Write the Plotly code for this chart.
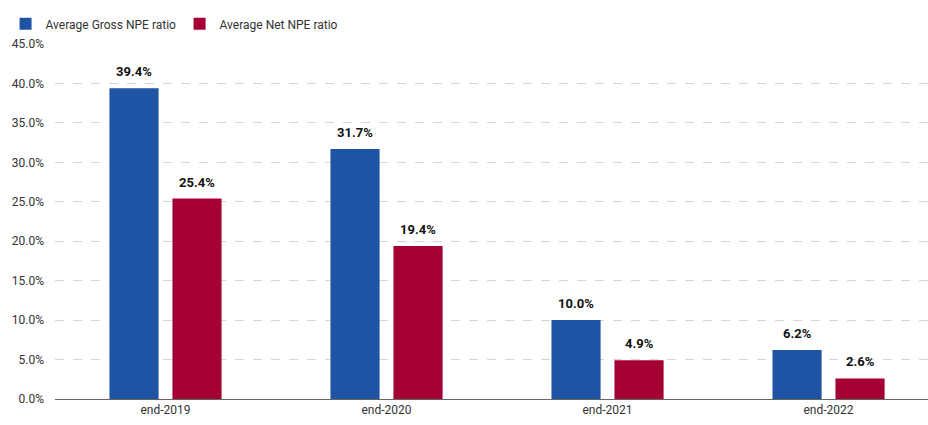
import plotly.graph_objects as go

categories = ["end-2019", "end-2020", "end-2021", "end-2022"]
gross_npe = [39.4, 31.7, 10.0, 6.2]
net_npe = [25.4, 19.4, 4.9, 2.6]
y_ticks = [0, 5, 10, 15, 20, 25, 30, 35, 40, 45]
y_tick_labels = [f"{v:.1f}%" for v in y_ticks]

FONT = "Roboto, Arial, sans-serif"
BLUE = "#1F53A3"
RED = "#A50034"
BAR_OFFSET_PX = 31.5  # half the distance between the two bar centres in a group

series = [
    ("Average Gross NPE ratio", gross_npe, BLUE, -BAR_OFFSET_PX),
    ("Average Net NPE ratio", net_npe, RED, BAR_OFFSET_PX),
]

fig = go.Figure()
annotations = []
for name, vals, color, shift in series:
    fig.add_trace(go.Bar(
        x=categories, y=vals, name=name, marker_color=color,
        marker_line=dict(width=0),
    ))
    for cat, v in zip(categories, vals):
        annotations.append(dict(
            x=cat, y=v, xref="x", yref="y", text=f"{v:.1f}%",
            showarrow=False, xanchor="center", yanchor="bottom",
            xshift=shift, yshift=7,
            font=dict(family=FONT, size=13, color="#111111", weight="bold"),
        ))

fig.update_layout(
    width=928, height=425,
    margin=dict(l=55, r=0, t=44, b=26, autoexpand=False),
    paper_bgcolor="white", plot_bgcolor="white",
    barmode="group", bargap=0.43, bargroupgap=0.22,
    font=dict(family=FONT, size=12, color="#333333"),
    showlegend=True,
    legend=dict(orientation="h", xref="container", yref="container",
                x=0.006, xanchor="left", y=0.978, yanchor="top",
                font=dict(family=FONT, size=12, color="#333333"),
                itemwidth=30, entrywidth=129, entrywidthmode="pixels",
                traceorder="normal", tracegroupgap=0),
    annotations=annotations,
)

fig.update_xaxes(
    range=[-0.5, 3.45], showgrid=False, showline=True, linecolor="#666666",
    linewidth=1, ticks="", automargin=False,
    tickfont=dict(family=FONT, size=12, color="#333333"),
)
fig.update_yaxes(
    range=[0, 45], tickvals=y_ticks, ticktext=y_tick_labels,
    showgrid=True, gridcolor="#D6D6D6", griddash="dash", gridwidth=1,
    zeroline=False, showline=False, ticks="", automargin=False,
    ticklabelstandoff=10,
    tickfont=dict(family=FONT, size=12, color="#333333"),
)

fig.write_html("out.html")
